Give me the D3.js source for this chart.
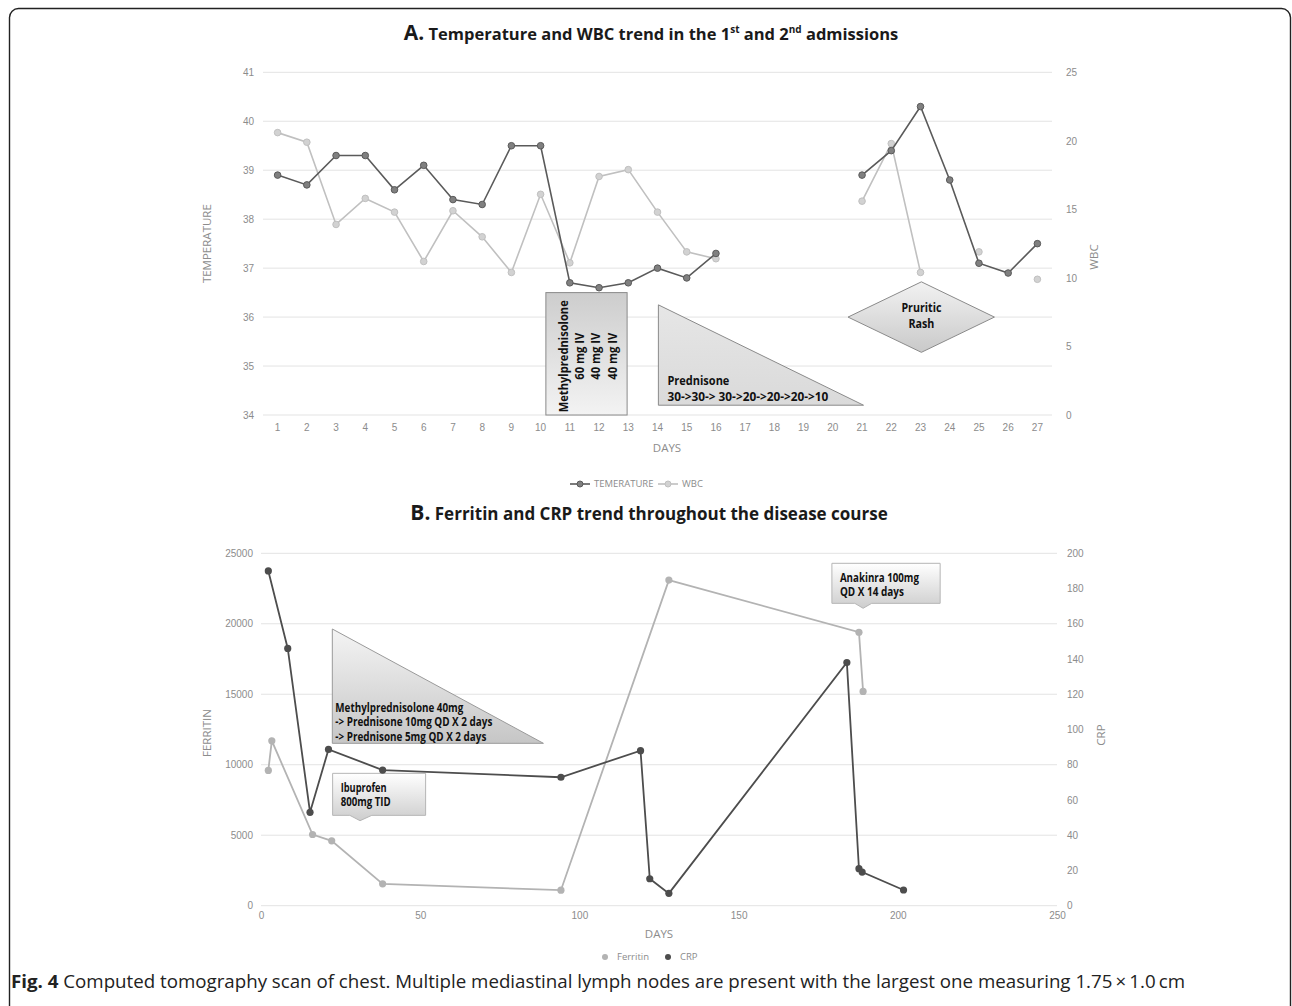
<!DOCTYPE html>
<html>
<head>
<meta charset="utf-8">
<script src="https://cdn.jsdelivr.net/npm/d3@7"></script>
<style>
  body { margin: 0; background: #fff; }
  svg { display: block; font-family: "Open Sans", "Liberation Sans", sans-serif; }
  .tick text { fill: #8c8c8c; font-size: 10px; }
  .axis-title { fill: #8c8c8c; font-size: 11.5px; }
  .note { font-family: "Open Sans", sans-serif; font-weight: bold; fill: #111; }
</style>
</head>
<body>
<svg id="fig" width="1292" height="1006"></svg>
<script>
// ---- chart A data (days 17-20 had no readings) ----
const days = d3.range(1, 28);
const temperature = [38.9, 38.7, 39.3, 39.3, 38.6, 39.1, 38.4, 38.3, 39.5, 39.5, 36.7, 36.6, 36.7, 37.0, 36.8, 37.3,
  null, null, null, null, 38.9, 39.4, 40.3, 38.8, 37.1, 36.9, 37.5];
const wbc = [20.6, 19.9, 13.9, 15.8, 14.8, 11.2, 14.9, 13.0, 10.4, 16.1, 11.1, 17.4, 17.9, 14.8, 11.9, 11.4,
  null, null, null, null, 15.6, 19.8, 10.4, null, 11.9, null, 9.9];
const tempTicks = [34, 35, 36, 37, 38, 39, 40, 41];
const wbcTicks = [0, 5, 10, 15, 20, 25];

// ---- chart B data ----
const ferritinDays = [2.3, 3.4, 16.2, 22.2, 38.2, 94.2, 128.1, 187.8, 189.1];
const ferritin = [9600, 11700, 5050, 4600, 1550, 1100, 23100, 19400, 15200];
const crpDays = [2.3, 8.4, 15.4, 21.2, 38.2, 94.2, 119.2, 122.1, 128.1, 184, 187.8, 188.8, 201.8];
const crp = [190, 146, 53, 88.7, 77, 72.9, 88, 15.3, 7, 138, 21, 19.1, 8.9];
const ferritinTicks = [0, 5000, 10000, 15000, 20000, 25000];
const crpTicks = [0, 20, 40, 60, 80, 100, 120, 140, 160, 180, 200];
const dayTicksB = [0, 50, 100, 150, 200, 250];

const DARK = '#5a5a5a', DARK_FILL = '#808080';
const LIGHT = '#c0c0c0', LIGHT_FILL = '#d2d2d2';
const GRID = '#e3e3e3';

const svg = d3.select('#fig');

// gradients for the annotation shapes
const defs = svg.append('defs');
function grad(id, top, bottom) {
  const g = defs.append('linearGradient').attr('id', id)
    .attr('x1', 0).attr('y1', 0).attr('x2', 0).attr('y2', 1);
  g.append('stop').attr('offset', '0%').attr('stop-color', top);
  g.append('stop').attr('offset', '100%').attr('stop-color', bottom);
}
grad('gBox', '#cdcdcd', '#f3f3f3');
grad('gTri', '#e6e6e6', '#dadada');
grad('gDia', '#f2f2f2', '#c9c9c9');
grad('gTriB', '#f4f4f4', '#c6c6c6');
grad('gCall', '#ffffff', '#cdcdcd');

// the note text is a narrow Calibri in the original, so squeeze each line to its width
function notes(g, lines, size, pos) {
  g.selectAll('text.note').data(lines).join('text')
    .attr('class', 'note').attr('font-size', size)
    .attr('textLength', d => d.w).attr('lengthAdjust', 'spacingAndGlyphs')
    .each(function (d, i) { pos(d3.select(this), i); })
    .text(d => d.t);
}

// outer frame
svg.append('rect')
  .attr('x', 9.5).attr('y', 8.5).attr('width', 1281).attr('height', 1012).attr('rx', 9)
  .attr('fill', 'none').attr('stroke', '#222').attr('stroke-width', 1.4);

// ============ A. Temperature and WBC ============
const A = { left: 263, right: 1052, top: 72.3, bottom: 415 };
const gA = svg.append('g');

const xA = d3.scaleBand().domain(days).range([A.left, A.right]);
const xAc = d3.scaleLinear().domain([1, 27])
  .range([xA(1) + xA.bandwidth() / 2, xA(27) + xA.bandwidth() / 2]);
const yTemp = d3.scaleLinear().domain([34, 41]).range([A.bottom, A.top]);
const yWbc = d3.scaleLinear().domain([0, 25]).range([A.bottom, A.top]);

gA.append('g').selectAll('line').data(tempTicks).join('line')
  .attr('x1', A.left).attr('x2', A.right)
  .attr('y1', d => yTemp(d)).attr('y2', d => yTemp(d))
  .attr('stroke', GRID).attr('stroke-width', 1);

gA.append('g').attr('transform', `translate(${A.left - 9},0)`)
  .call(d3.axisLeft(yTemp).tickValues(tempTicks).tickFormat(d3.format('d')).tickSize(0).tickPadding(0))
  .call(g => g.select('.domain').remove());
gA.append('g').attr('transform', `translate(${A.right + 14},0)`)
  .call(d3.axisRight(yWbc).tickValues(wbcTicks).tickSize(0).tickPadding(0))
  .call(g => g.select('.domain').remove());
gA.append('g').attr('transform', `translate(0,${A.bottom + 9})`)
  .call(d3.axisBottom(xA).tickSize(0).tickPadding(0))
  .call(g => g.select('.domain').remove());

gA.append('text').attr('class', 'axis-title')
  .attr('transform', `translate(211,${(A.top + A.bottom) / 2}) rotate(-90)`)
  .attr('text-anchor', 'middle').text('TEMPERATURE');
gA.append('text').attr('class', 'axis-title')
  .attr('transform', `translate(1098,257) rotate(-90)`)
  .attr('text-anchor', 'middle').text('WBC');
gA.append('text').attr('class', 'axis-title').attr('font-size', 10)
  .attr('x', 667).attr('y', 452).attr('text-anchor', 'middle').text('DAYS');

// annotations behind the lines
const boxA = gA.append('g');
boxA.append('rect')
  .attr('x', xAc(10.18)).attr('y', yTemp(36.5))
  .attr('width', xAc(12.96) - xAc(10.18)).attr('height', yTemp(34) - yTemp(36.5))
  .attr('fill', 'url(#gBox)').attr('stroke', '#8a8a8a');
notes(boxA, [{ t: 'Methylprednisolone', w: 112 }, { t: '60 mg IV', w: 47 }, { t: '40 mg IV', w: 47 }, { t: '40 mg IV', w: 47 }], 13,
  (s, i) => s.attr('text-anchor', 'middle')
    .attr('transform', `translate(${xAc(10.18) + 22 + i * 16.3},${yTemp(35.2)}) rotate(-90)`));

const triA = gA.append('g');
triA.append('path')
  .attr('d', d3.line()([[xAc(14.03), yTemp(36.25)], [xAc(14.03), yTemp(34.2)], [xAc(21.05), yTemp(34.2)]]) + 'Z')
  .attr('fill', 'url(#gTri)').attr('stroke', '#8a8a8a');
notes(triA, [{ t: 'Prednisone', w: 62 }, { t: '30->30-> 30->20->20->20->10', w: 161 }], 13,
  (s, i) => s.attr('x', xAc(14.03) + 9).attr('y', 385 + i * 16));

const diaA = gA.append('g');
diaA.append('path')
  .attr('d', d3.line()([[xAc(20.52), yTemp(36.0)], [xAc(23.03), yTemp(36.72)], [xAc(25.53), yTemp(36.0)], [xAc(23.03), yTemp(35.28)]]) + 'Z')
  .attr('fill', 'url(#gDia)').attr('stroke', '#8a8a8a');
notes(diaA, [{ t: 'Pruritic', w: 40 }, { t: 'Rash', w: 26 }], 13,
  (s, i) => s.attr('text-anchor', 'middle').attr('x', xAc(23.03)).attr('y', 312 + i * 16));

// series
const tempPts = days.map((d, i) => ({ day: d, v: temperature[i] }));
const wbcPts = days.map((d, i) => ({ day: d, v: wbc[i] }));
const xMid = d => xA(d.day) + xA.bandwidth() / 2;

gA.append('path').datum(wbcPts)
  .attr('fill', 'none').attr('stroke', LIGHT).attr('stroke-width', 1.6)
  .attr('d', d3.line().defined(d => d.v != null).x(xMid).y(d => yWbc(d.v)));
gA.append('g').selectAll('circle').data(wbcPts.filter(d => d.v != null)).join('circle')
  .attr('cx', xMid).attr('cy', d => yWbc(d.v)).attr('r', 3.3)
  .attr('fill', LIGHT_FILL).attr('stroke', LIGHT);

gA.append('path').datum(tempPts)
  .attr('fill', 'none').attr('stroke', DARK).attr('stroke-width', 1.6)
  .attr('d', d3.line().defined(d => d.v != null).x(xMid).y(d => yTemp(d.v)));
gA.append('g').selectAll('circle').data(tempPts.filter(d => d.v != null)).join('circle')
  .attr('cx', xMid).attr('cy', d => yTemp(d.v)).attr('r', 3.3)
  .attr('fill', DARK_FILL).attr('stroke', DARK);

// legend A
const legA = gA.append('g').attr('transform', 'translate(570,484)');
[{ name: 'TEMERATURE', c: DARK, f: DARK_FILL, x: 0 }, { name: 'WBC', c: LIGHT, f: LIGHT_FILL, x: 88 }].forEach(s => {
  const g = legA.append('g').attr('transform', `translate(${s.x},0)`);
  g.append('line').attr('x1', 0).attr('x2', 20).attr('stroke', s.c).attr('stroke-width', 1.6);
  g.append('circle').attr('cx', 10).attr('r', 3).attr('fill', s.f).attr('stroke', s.c);
  g.append('text').attr('x', 24).attr('dy', '0.35em').attr('font-size', 9.5).attr('fill', '#8c8c8c').text(s.name);
});

// title A
const tA = svg.append('text').attr('x', 651).attr('y', 40).attr('text-anchor', 'middle')
  .attr('font-weight', 'bold').attr('font-size', 16.5).attr('fill', '#1a1a1a');
tA.append('tspan').attr('font-size', 21).text('A.');
tA.append('tspan').text(' Temperature and WBC trend in the 1');
tA.append('tspan').attr('font-size', 10).attr('dy', -7).text('st');
tA.append('tspan').attr('dy', 7).text(' and 2');
tA.append('tspan').attr('font-size', 10).attr('dy', -7).text('nd');
tA.append('tspan').attr('dy', 7).text(' admissions');

// ============ B. Ferritin and CRP ============
const B = { left: 261, right: 1057, top: 553.3, bottom: 905.7 };
const gB = svg.append('g');

const xB = d3.scaleLinear().domain([0, 250]).range([B.left, B.right]);
const yFer = d3.scaleLinear().domain([0, 25000]).range([B.bottom, B.top]);
const yCrp = d3.scaleLinear().domain([0, 200]).range([B.bottom, B.top]);

gB.append('g').selectAll('line').data(ferritinTicks).join('line')
  .attr('x1', B.left).attr('x2', B.right)
  .attr('y1', d => yFer(d)).attr('y2', d => yFer(d))
  .attr('stroke', GRID).attr('stroke-width', 1);

gB.append('g').attr('transform', `translate(${B.left - 8},0)`)
  .call(d3.axisLeft(yFer).tickValues(ferritinTicks).tickFormat(d3.format('d')).tickSize(0).tickPadding(0))
  .call(g => g.select('.domain').remove());
gB.append('g').attr('transform', `translate(${B.right + 10},0)`)
  .call(d3.axisRight(yCrp).tickValues(crpTicks).tickSize(0).tickPadding(0))
  .call(g => g.select('.domain').remove());
gB.append('g').attr('transform', `translate(0,${B.bottom + 6})`)
  .call(d3.axisBottom(xB).tickValues(dayTicksB).tickSize(0).tickPadding(0))
  .call(g => g.select('.domain').remove());

gB.append('text').attr('class', 'axis-title')
  .attr('transform', `translate(211,733) rotate(-90)`)
  .attr('text-anchor', 'middle').text('FERRITIN');
gB.append('text').attr('class', 'axis-title')
  .attr('transform', `translate(1105,735) rotate(-90)`)
  .attr('text-anchor', 'middle').text('CRP');
gB.append('text').attr('class', 'axis-title').attr('font-size', 10)
  .attr('x', 659).attr('y', 938).attr('text-anchor', 'middle').text('DAYS');

// annotations
const triB = gB.append('g');
triB.append('path')
  .attr('d', d3.line()([[xB(22.4), yFer(19630)], [xB(22.4), yFer(11520)], [xB(88.7), yFer(11520)]]) + 'Z')
  .attr('fill', 'url(#gTriB)').attr('stroke', '#9a9a9a');
notes(triB, [{ t: 'Methylprednisolone 40mg', w: 128 }, { t: '-> Prednisone 10mg QD X 2 days', w: 157 }, { t: '-> Prednisone 5mg QD X 2 days', w: 151 }], 11.5,
  (s, i) => s.attr('x', xB(22.4) + 3).attr('y', 712 + i * 14.3));

function callout(g, x0, x1, yTop, yBot, tipX, base0, base1, tipY) {
  g.append('path')
    .attr('d', d3.line()([
      [xB(x0), yFer(yTop)], [xB(x1), yFer(yTop)], [xB(x1), yFer(yBot)],
      [xB(base1), yFer(yBot)], [xB(tipX), yFer(tipY)], [xB(base0), yFer(yBot)],
      [xB(x0), yFer(yBot)]]) + 'Z')
    .attr('fill', 'url(#gCall)').attr('stroke', '#b5b5b5');
}
const ibu = gB.append('g');
callout(ibu, 22.5, 51.7, 9390, 6410, 31.1, 27.9, 34.8, 6030);
notes(ibu, [{ t: 'Ibuprofen', w: 46 }, { t: '800mg TID', w: 50 }], 11.5,
  (s, i) => s.attr('x', xB(22.5) + 8).attr('y', 792 + i * 13.5));

const ana = gB.append('g');
callout(ana, 179.3, 213.3, 24290, 21450, 189.1, 186.5, 191.8, 21100);
notes(ana, [{ t: 'Anakinra 100mg', w: 79 }, { t: 'QD X 14 days', w: 64 }], 11.5,
  (s, i) => s.attr('x', xB(179.3) + 8).attr('y', 582 + i * 14));

// series
const ferPts = ferritinDays.map((d, i) => ({ day: d, v: ferritin[i] }));
const crpPts = crpDays.map((d, i) => ({ day: d, v: crp[i] }));

gB.append('path').datum(ferPts)
  .attr('fill', 'none').attr('stroke', '#b3b3b3').attr('stroke-width', 1.8)
  .attr('d', d3.line().x(d => xB(d.day)).y(d => yFer(d.v)));
gB.append('g').selectAll('circle').data(ferPts).join('circle')
  .attr('cx', d => xB(d.day)).attr('cy', d => yFer(d.v)).attr('r', 3.6)
  .attr('fill', '#b3b3b3');

gB.append('path').datum(crpPts)
  .attr('fill', 'none').attr('stroke', '#4d4d4d').attr('stroke-width', 1.8)
  .attr('d', d3.line().x(d => xB(d.day)).y(d => yCrp(d.v)));
gB.append('g').selectAll('circle').data(crpPts).join('circle')
  .attr('cx', d => xB(d.day)).attr('cy', d => yCrp(d.v)).attr('r', 3.6)
  .attr('fill', '#4d4d4d');

// legend B
const legB = gB.append('g').attr('transform', 'translate(605,957)');
[{ name: 'Ferritin', c: '#b3b3b3', x: 0 }, { name: 'CRP', c: '#4d4d4d', x: 63 }].forEach(s => {
  const g = legB.append('g').attr('transform', `translate(${s.x},0)`);
  g.append('circle').attr('r', 3).attr('fill', s.c);
  g.append('text').attr('x', 12).attr('dy', '0.35em').attr('font-size', 9.5).attr('fill', '#8c8c8c').text(s.name);
});

// title B
const tB = svg.append('text').attr('x', 649).attr('y', 520).attr('text-anchor', 'middle')
  .attr('font-weight', 'bold').attr('font-size', 17).attr('fill', '#1a1a1a');
tB.append('tspan').attr('font-size', 21).text('B.');
tB.append('tspan').text(' Ferritin and CRP trend throughout the disease course');

// caption
const cap = svg.append('text').attr('x', 11).attr('y', 988).attr('font-size', 17.5).attr('fill', '#222')
  .attr('textLength', 1174).attr('lengthAdjust', 'spacingAndGlyphs');
cap.append('tspan').attr('font-weight', 'bold').text('Fig. 4');
cap.append('tspan').text(' Computed tomography scan of chest. Multiple mediastinal lymph nodes are present with the largest one measuring 1.75\u2009\u00d7\u20091.0\u2009cm');
</script>
</body>
</html>
